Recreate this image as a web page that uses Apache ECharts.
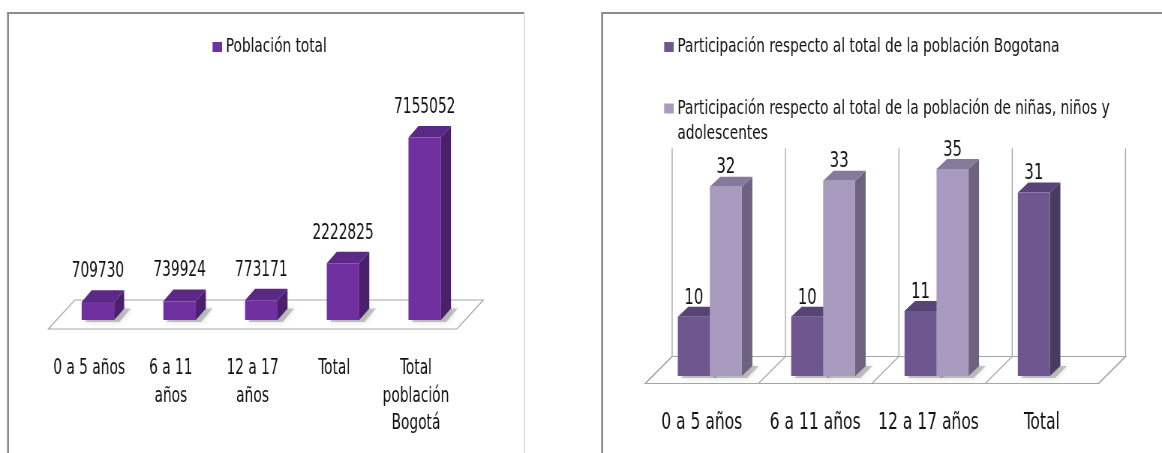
<!DOCTYPE html>
<html>
<head>
<meta charset="utf-8">
<script src="https://cdn.jsdelivr.net/npm/echarts@6/dist/echarts.min.js"></script>
<style>
  html, body { margin: 0; padding: 0; background: #fff; overflow: hidden; }
  #wrap { width: 1162px; height: 453px; overflow: hidden; }
  #chart { height: 453px; transform-origin: 0 0; }
</style>
</head>
<body>
<div id="wrap"><div id="chart"></div></div>
<script>
// The charts use a narrow typeface; the canvas is laid out wider and
// compressed horizontally so the condensed lettering keeps its height.
const SX = 0.75;
const W = 1162;
const px = v => v / SX;   // page x (px) -> layout x
const FONT = "'DejaVu Sans Condensed', 'DejaVu Sans', sans-serif";

// Población por grupo de edad
const popCategories = ['0 a 5 años', '6 a 11\naños', '12 a 17\naños', 'Total', 'Total\npoblación\nBogotá'];
const popName = 'Población total';
const popValues = [709730, 739924, 773171, 2222825, 7155052];

// Participación porcentual por grupo de edad
const partCategories = ['0 a 5 años', '6 a 11 años', '12 a 17 años', 'Total'];
const partBogotaName = 'Participación respecto al total de la población Bogotana';
const partBogotaValues = [10, 10, 11, 31];
const partNnaName = 'Participación respecto al total de la población de niñas, niños y adolescentes';
const partNnaLegendLines = ['Participación respecto al total de la población de niñas, niños y', 'adolescentes'];
const partNnaValues = [32, 33, 35, null];

const toPairs = arr => arr.map((v, i) => [i, v == null ? '-' : v]);

// Prism-shaped bar: front face, right side and top face, plus a soft floor shadow
function prismBar(cfg) {
  return function (params, api) {
    const v = api.value(1);
    if (v == null || isNaN(v)) return null;
    const base = api.coord([api.value(0), 0]);
    const top = api.coord([api.value(0), v]);
    const x0 = base[0] + cfg.offset;
    const x1 = x0 + cfg.width;
    const y0 = base[1];
    const y1 = top[1];
    const dx = cfg.dx, dy = cfg.dy;
    return {
      type: 'group',
      children: [
        {
          type: 'polygon', z2: -10, silent: true,
          shape: { points: [[x0 + 4, y0 + 2], [x1 + 7, y0 + 2], [x1 + dx + 9, y0 + dy], [x0 + dx + 4, y0 + dy]] },
          style: { fill: 'rgba(80,80,80,0.30)', shadowBlur: 7, shadowColor: 'rgba(60,60,60,0.55)' }
        },
        {
          type: 'polygon',
          shape: { points: [[x1, y0], [x1 + dx, y0 + dy], [x1 + dx, y1 + dy], [x1, y1]] },
          style: { fill: cfg.side }
        },
        {
          type: 'polygon',
          shape: { points: [[x0, y1], [x1, y1], [x1 + dx, y1 + dy], [x0 + dx, y1 + dy]] },
          style: { fill: cfg.topColor }
        },
        {
          type: 'rect',
          shape: { x: x0, y: y1, width: cfg.width, height: y0 - y1 },
          style: { fill: cfg.front }
        },
        {
          type: 'text',
          style: {
            text: String(v), x: (x0 + x1) / 2, y: y1 - cfg.labelGap,
            align: 'center', verticalAlign: 'middle',
            fontFamily: FONT, fontSize: cfg.fontSize, fill: '#111'
          }
        }
      ]
    };
  };
}

// Floor plate under the bars (left chart)
function popFloor(params, api) {
  const cs = params.coordSys;
  const y0 = cs.y + cs.height;
  const fy = y0 + 9, by = y0 - 20, d = px(26.5);
  return {
    type: 'polygon',
    shape: { points: [[cs.x, fy], [cs.x + cs.width, fy], [cs.x + cs.width + d, by], [cs.x + d, by]] },
    style: { fill: '#fff', stroke: '#a6a6a6', lineWidth: 1.2 }
  };
}

// Floor plate with category dividers and back-wall separators (right chart)
function partFloor(params, api) {
  const cs = params.coordSys;
  const y0 = cs.y + cs.height;
  const fy = y0 + 7.5, by = y0 - 19.5, d = px(27);
  const n = partCategories.length;
  const step = cs.width / n;
  const wallTop = cs.y + 9;
  const children = [{
    type: 'polygon',
    shape: { points: [[cs.x, fy], [cs.x + cs.width, fy], [cs.x + cs.width + d, by], [cs.x + d, by]] },
    style: { fill: '#fff', stroke: '#a6a6a6', lineWidth: 1.2 }
  }];
  for (let k = 0; k <= n; k++) {
    const fx = cs.x + k * step;
    children.push({
      type: 'line',
      shape: { x1: fx, y1: fy, x2: fx + d, y2: by },
      style: { stroke: '#a6a6a6', lineWidth: 1.2 }
    });
    children.push({
      type: 'line',
      shape: { x1: fx + d, y1: by, x2: fx + d, y2: wallTop },
      style: { stroke: '#a6a6a6', lineWidth: px(1) }
    });
  }
  return { type: 'group', children };
}

const legendText = { fontFamily: FONT, fontSize: 20.3, lineHeight: 24, color: '#111' };
const legendBase = {
  orient: 'vertical', icon: 'rect', itemWidth: px(9.5), itemHeight: 10,
  padding: 0, selectedMode: false, textStyle: legendText
};

const option = {
  animation: false,
  backgroundColor: '#fff',
  graphic: [
    { type: 'line', shape: { x1: px(7), y1: 13, x2: px(524), y2: 13 }, style: { stroke: '#8c8c8c', lineWidth: 2 } },
    { type: 'line', shape: { x1: px(8), y1: 12, x2: px(8), y2: 453 }, style: { stroke: '#8c8c8c', lineWidth: px(2) } },
    { type: 'line', shape: { x1: px(524.5), y1: 13, x2: px(524.5), y2: 453 }, style: { stroke: '#d4d4d4', lineWidth: px(1) } },
    { type: 'line', shape: { x1: px(601), y1: 13, x2: px(W), y2: 13 }, style: { stroke: '#8c8c8c', lineWidth: 2 } },
    { type: 'line', shape: { x1: px(602), y1: 12, x2: px(602), y2: 453 }, style: { stroke: '#8c8c8c', lineWidth: px(2) } }
  ],
  legend: [
    Object.assign({}, legendBase, { data: [popName], left: px(212.5), top: 35 }),
    Object.assign({}, legendBase, { data: [partBogotaName], left: px(664), top: 35 }),
    Object.assign({}, legendBase, {
      data: [partNnaName], left: px(664), top: 71,
      formatter: () => '\n' + partNnaLegendLines.join('\n'),
      textStyle: Object.assign({}, legendText, { lineHeight: 25 })
    })
  ],
  grid: [
    { left: px(48.3), width: px(408.4), top: 116, height: 204 },
    { left: px(645), width: px(453.3), top: 139.36, height: 236.64 }
  ],
  xAxis: [
    {
      type: 'category', gridIndex: 0, data: popCategories,
      axisLine: { show: false }, axisTick: { show: false },
      axisLabel: { interval: 0, margin: 35, fontFamily: FONT, fontSize: 20.4, lineHeight: 27.6, color: '#111' }
    },
    {
      type: 'category', gridIndex: 1, data: partCategories,
      axisLine: { show: false }, axisTick: { show: false },
      axisLabel: { interval: 0, margin: 35, fontFamily: FONT, fontSize: 23, lineHeight: 25, color: '#111' }
    }
  ],
  yAxis: [
    { type: 'value', gridIndex: 0, min: 0, max: 8000000, show: false },
    { type: 'value', gridIndex: 1, min: 0, max: 40, show: false }
  ],
  series: [
    { type: 'custom', name: 'floorL', xAxisIndex: 0, yAxisIndex: 0, z: 1, silent: true, data: [[0, 0]], renderItem: popFloor },
    { type: 'custom', name: 'floorR', xAxisIndex: 1, yAxisIndex: 1, z: 1, silent: true, data: [[0, 0]], renderItem: partFloor },
    {
      type: 'custom', name: popName, xAxisIndex: 0, yAxisIndex: 0, z: 2,
      itemStyle: { color: '#7030a0' },
      encode: { x: 0, y: 1 },
      data: toPairs(popValues),
      renderItem: prismBar({ offset: px(-7.5), width: px(32.5), dx: px(10), dy: -11.6, front: '#7030a0', topColor: '#5b2886', side: '#4a1f6c', labelGap: 30, fontSize: 20.4 })
    },
    {
      type: 'custom', name: partBogotaName, xAxisIndex: 1, yAxisIndex: 1, z: 2,
      itemStyle: { color: '#6e578f' },
      encode: { x: 0, y: 1 },
      data: toPairs(partBogotaValues),
      renderItem: prismBar({ offset: px(-24), width: px(32), dx: px(10.5), dy: -10, front: '#6e578f', topColor: '#574474', side: '#493a62', labelGap: 19, fontSize: 22 })
    },
    {
      type: 'custom', name: partNnaName, xAxisIndex: 1, yAxisIndex: 1, z: 3,
      itemStyle: { color: '#a99bc0' },
      encode: { x: 0, y: 1 },
      data: toPairs(partNnaValues),
      renderItem: prismBar({ offset: px(8), width: px(32), dx: px(10.5), dy: -10, front: '#a99bc0', topColor: '#857a9b', side: '#6d6381', labelGap: 19, fontSize: 22 })
    }
  ]
};

const el = document.getElementById('chart');
const layoutW = Math.round(px(W));
el.style.width = layoutW + 'px';
el.style.transform = 'scale(' + (W / layoutW) + ', 1)';
const chart = echarts.init(el, null, { renderer: 'canvas', width: layoutW, height: 453 });
chart.setOption(option);
</script>
</body>
</html>
